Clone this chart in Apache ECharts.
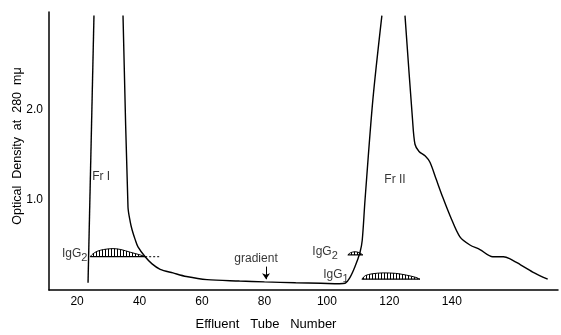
<!DOCTYPE html>
<html>
<head>
<meta charset="utf-8">
<script src="https://cdn.jsdelivr.net/npm/echarts@6/dist/echarts.min.js"></script>
<style>
  html, body { margin: 0; padding: 0; background: #fff; }
  #chart { width: 561px; height: 335px; }
</style>
</head>
<body>
<div id="chart"></div>
<script>
// tick labels
const tubeTicks = [20, 40, 60, 80, 100, 120, 140];
const odTicks = [1, 2];

// optical density trace [tube, OD]; peaks run off the top of the plot
const frIRise = [[23.5, 0.08], [25.4, 3.05]];
const mainTrace = [
  [34.7, 3.05], [36.3, 0.92], [37.0, 0.76], [37.6, 0.67], [38.6, 0.56],
  [39.5, 0.48], [41.8, 0.37], [44, 0.29], [46.6, 0.23], [50.7, 0.19],
  [55, 0.15], [61.6, 0.115], [72, 0.1], [80, 0.09], [90, 0.08],
  [98, 0.075], [104, 0.07], [105.8, 0.075], [107.4, 0.14], [109, 0.26],
  [110.6, 0.42], [111.3, 0.55], [112.2, 1.0], [114.7, 2.11], [117.6, 3.05]
];
const frIIFall = [
  [125, 3.05], [127.4, 1.9], [128.2, 1.62], [129.5, 1.54], [131.5, 1.49],
  [133, 1.42], [135, 1.23], [137.1, 1.03], [139.5, 0.82], [142.6, 0.59],
  [145.8, 0.5], [149, 0.45], [153.1, 0.37], [156.5, 0.37], [158.5, 0.35],
  [162, 0.28], [165.9, 0.2], [170.7, 0.12]
];

// immunoglobulin humps
const igg2FrI = [
  [24.2, 0.37], [25, 0.40], [26.4, 0.43], [28.5, 0.45], [31.5, 0.46],
  [34, 0.45], [37, 0.42], [40.2, 0.39], [41.8, 0.37]
];
const igg2FrIDotted = [[41.8, 0.37], [46.6, 0.37]];
const igg2FrII = [[106.7, 0.39], [107.6, 0.415], [109, 0.425], [110.4, 0.415], [111.5, 0.39]];
const igg1FrII = [
  [111.2, 0.12], [112.3, 0.16], [114.5, 0.18], [118, 0.19], [122, 0.185],
  [125.5, 0.165], [128.5, 0.14], [129.8, 0.12]
];

const gradientArrow = { tube: 80.5, from: 0.26, to: 0.12 };

const INK = "#000";
const FONT = "Liberation Sans";

const hatch = () => {
  const c = document.createElement("canvas");
  c.width = 3;
  c.height = 4;
  const g = c.getContext("2d");
  g.fillStyle = INK;
  g.fillRect(0, 0, 1, 4);
  return c;
};

const traceLine = (data, extra) => Object.assign({
  type: "line",
  data: data,
  symbol: "none",
  smooth: 0.3,
  lineStyle: { color: INK, width: 1.4 },
  silent: true,
  z: 3
}, extra || {});

const hump = (data) => {
  const base = data[0][1];
  return [
    traceLine(data, {
      smooth: 0.3,
      lineStyle: { color: INK, width: 1 },
      areaStyle: { color: { image: hatch(), repeat: "repeat" }, origin: base, opacity: 1 }
    }),
    traceLine([data[0], data[data.length - 1]], { smooth: false, lineStyle: { color: INK, width: 1.2 } })
  ];
};

const sub = (main, s) => `{m|${main}}{s|${s}}`;
const subRich = {
  m: { fontSize: 12, fontFamily: FONT, color: INK, lineHeight: 13, verticalAlign: "top" },
  s: { fontSize: 11, fontFamily: FONT, color: INK, lineHeight: 13, padding: [5, 0, 0, 0], verticalAlign: "top" }
};

const annotations = [
  { value: [27.7, 1.26], text: "Fr I", position: "inside" },
  { value: [121.8, 1.23], text: "Fr II", position: "inside" },
  { value: [77.3, 0.345], text: "gradient", position: "inside" },
  { value: [23.6, 0.40], text: sub("IgG", "2"), position: "left" },
  { value: [103.8, 0.42], text: sub("IgG", "2"), position: "left" },
  { value: [107.3, 0.17], text: sub("IgG", "1"), position: "left" }
];

const chart = echarts.init(document.getElementById("chart"), null, { renderer: "canvas" });

chart.setOption({
  animation: false,
  backgroundColor: "#fff",
  grid: { left: 49, right: 3, top: 12, bottom: 45 },
  xAxis: {
    type: "value",
    min: 11,
    max: 174,
    axisLine: { show: true, lineStyle: { color: INK, width: 1.5 } },
    axisTick: { show: false },
    splitLine: { show: false },
    axisLabel: {
      customValues: tubeTicks,
      color: INK,
      fontFamily: FONT,
      fontSize: 12,
      margin: 6
    }
  },
  yAxis: {
    type: "value",
    min: 0,
    max: 3.09,
    axisLine: { show: true, lineStyle: { color: INK, width: 1.5 } },
    axisTick: { show: false },
    splitLine: { show: false },
    axisLabel: {
      customValues: odTicks,
      formatter: (v) => v.toFixed(1),
      color: INK,
      fontFamily: FONT,
      fontSize: 12,
      margin: 6
    }
  },
  graphic: [
    {
      type: "text",
      x: 18,
      y: 146,
      rotation: Math.PI / 2,
      style: {
        text: "Optical  Density  at  280  mμ",
        fill: INK,
        font: `12.5px "${FONT}"`,
        align: "center",
        verticalAlign: "middle"
      }
    },
    {
      type: "text",
      x: 266,
      y: 324,
      style: {
        text: "Effluent   Tube   Number",
        fill: INK,
        font: `13px "${FONT}"`,
        align: "center",
        verticalAlign: "middle"
      }
    }
  ],
  series: [
    traceLine(frIRise, { smooth: false }),
    traceLine(mainTrace),
    traceLine(frIIFall),
    ...hump(igg2FrI),
    traceLine(igg2FrIDotted, { smooth: false, lineStyle: { color: INK, width: 1, type: [2, 2] } }),
    ...hump(igg2FrII),
    ...hump(igg1FrII),
    {
      type: "line",
      data: [],
      markLine: {
        silent: true,
        symbol: ["none", "arrow"],
        symbolSize: 6,
        label: { show: false },
        lineStyle: { color: INK, width: 1, type: "solid" },
        data: [[
          { coord: [gradientArrow.tube, gradientArrow.from] },
          { coord: [gradientArrow.tube, gradientArrow.to] }
        ]]
      }
    },
    {
      type: "scatter",
      symbolSize: 0,
      silent: true,
      z: 5,
      data: annotations.map((a) => ({
        value: a.value,
        label: {
          show: true,
          position: a.position,
          distance: 1,
          formatter: a.text,
          color: INK,
          fontFamily: FONT,
          fontSize: 12,
          rich: subRich
        }
      }))
    }
  ]
});
</script>
</body>
</html>
